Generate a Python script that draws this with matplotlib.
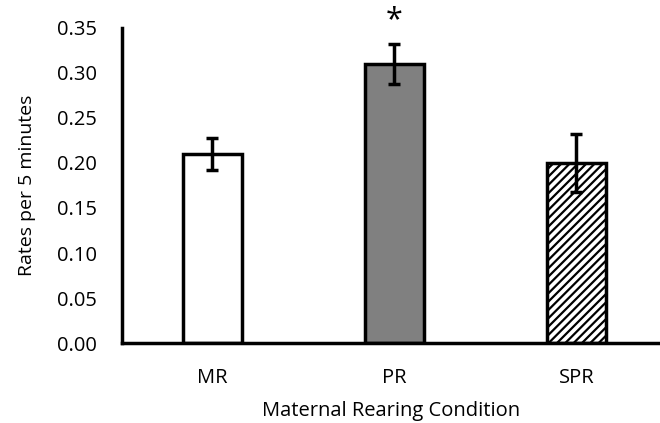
import matplotlib
matplotlib.use("Agg")
import matplotlib.pyplot as plt

categories = ["MR", "PR", "SPR"]
values = [0.21, 0.31, 0.20]
errors = [0.018, 0.022, 0.032]
yticks = [0.00, 0.05, 0.10, 0.15, 0.20, 0.25, 0.30, 0.35]

plt.rcParams['font.family'] = ['Open Sans', 'DejaVu Sans']
plt.rcParams['hatch.linewidth'] = 1.6

fig = plt.figure(figsize=(6.6, 4.23), dpi=100)
ax = fig.add_axes([0.185, 0.189, 0.815, 0.745])

x = list(range(len(categories)))
facecolors = ["white", "#808080", "white"]
hatches = [None, None, "////"]
for xi, v, e, fc, h in zip(x, values, errors, facecolors, hatches):
    ax.bar(xi, v, width=0.325, color=fc, edgecolor="black", linewidth=2.5, hatch=h, zorder=2)
    ax.errorbar(xi, v, yerr=e, fmt="none", ecolor="black", elinewidth=2.5, capsize=4, capthick=2.5, zorder=3)

ax.text(1, values[1] + errors[1] + 0.010, "*", ha="center", va="bottom", fontsize=22)

ax.set_xlim(-0.495, 2.46)
ax.set_ylim(0, 0.35)
ax.set_yticks(yticks)
ax.set_yticklabels([f"{t:.2f}" for t in yticks], fontsize=14.5)
ax.set_xticks(x)
ax.set_xticklabels(categories, fontsize=14.5)
ax.tick_params(axis="x", length=0, pad=18)
ax.tick_params(axis="y", length=0, pad=18)
for s in ["top", "right"]:
    ax.spines[s].set_visible(False)
for s in ["left", "bottom"]:
    ax.spines[s].set_linewidth(2.5)
ax.set_ylabel("Rates per 5 minutes", fontsize=14, labelpad=15)
ax.set_xlabel("Maternal Rearing Condition", fontsize=14.5, labelpad=9)

fig.savefig("out.png", dpi=100)
